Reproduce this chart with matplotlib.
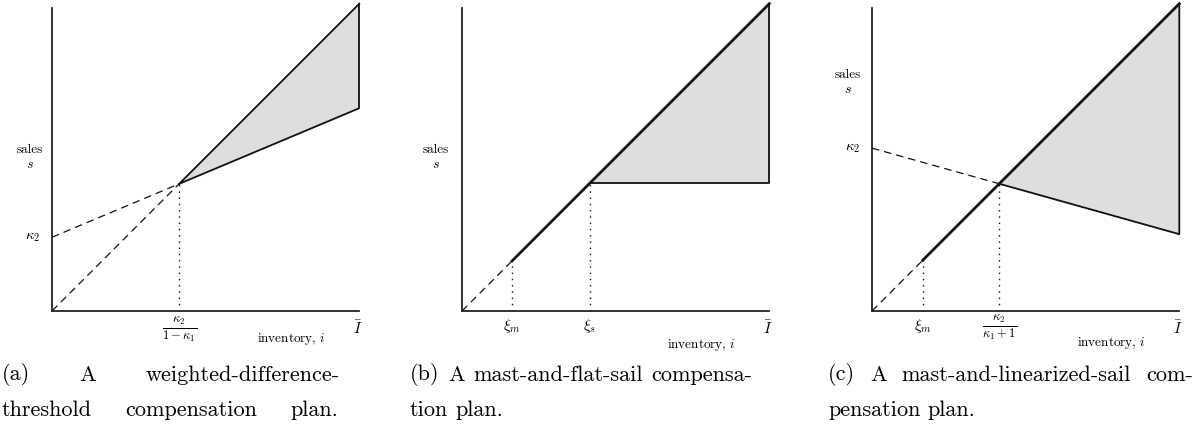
import numpy as np
import matplotlib
matplotlib.use("Agg")
import matplotlib.pyplot as plt

plt.rcParams['font.family'] = 'serif'
plt.rcParams['font.serif'] = ['cmr10']
plt.rcParams['mathtext.fontset'] = 'cm'
plt.rcParams['axes.unicode_minus'] = False

# diagram parameters (inventory runs 0..ibar)
ibar = 10.0
yTop = 9.87

# (a) weighted-difference-threshold
kappa1A = 0.42
kappa2A = 2.4

# (b) mast-and-flat-sail
xiMB = 1.63
xiSB = 4.15

# (c) mast-and-linearized-sail
xiMC = 1.65
kappa1C = 0.28
kappa2C = 5.3

captions = [
  ["(a) A weighted-difference-", "threshold compensation plan."],
  ["(b) A mast-and-flat-sail compensa-", "tion plan."],
  ["(c) A mast-and-linearized-sail com-", "pensation plan."],
]

W, H = 1195, 433
grey = '#dedede'
ink = '#111111'


def makeAxes(fig, x0):
  # x0 = pixel position of the vertical axis
  w = 307.3
  ax = fig.add_axes([x0 / W, (H - 311) / H, w / W, w / H])
  ax.set_xlim(0, ibar)
  ax.set_ylim(0, ibar)
  for side in ['top', 'right']:
    ax.spines[side].set_visible(False)
  for side in ['left', 'bottom']:
    ax.spines[side].set_color('#222222')
    ax.spines[side].set_linewidth(1.3)
  ax.spines['left'].set_bounds(0, yTop)
  ax.set_xticks([])
  ax.set_yticks([])
  ax.patch.set_alpha(0)
  return ax


def axisLabels(ax, salesX, salesY, invY):
  ax.text(salesX, salesY, "sales", ha='center', va='center', fontsize=9.5, clip_on=False)
  ax.text(salesX, salesY - 0.48, "$s$", ha='center', va='center', fontsize=10, clip_on=False)
  ax.text(7.8, invY, "inventory, $i$", ha='center', va='center', fontsize=9.5, clip_on=False)
  ax.text(ibar - 0.05, -0.55, r"$\bar{I}$", ha='center', va='center', fontsize=11, clip_on=False)


def justifyLine(fig, words, x0, x1, y, size, stretch=True):
  r = fig.canvas.get_renderer()
  arts = [fig.text(0, y / H, wd, fontsize=size, va='center', ha='left') for wd in words]
  widths = [a.get_window_extent(renderer=r).width for a in arts]
  if stretch and len(words) > 1:
    gap = (x1 - x0 - sum(widths)) / (len(words) - 1)
  else:
    sp = fig.text(0, 0, "a b", fontsize=size)
    sp2 = fig.text(0, 0, "ab", fontsize=size)
    gap = sp.get_window_extent(renderer=r).width - sp2.get_window_extent(renderer=r).width
    sp.remove()
    sp2.remove()
  x = x0
  for a, wdt in zip(arts, widths):
    a.set_x(x / W)
    x += wdt + gap


fig = plt.figure(figsize=(W / 100, H / 100), dpi=100)
fig.canvas.draw()

# ---- (a)
ax = makeAxes(fig, 52)
kinkA = kappa2A / (1 - kappa1A)
ax.fill([kinkA, ibar, ibar], [kinkA, ibar, kappa2A + kappa1A * ibar], color=grey, lw=0)
ax.plot([kinkA, ibar], [kinkA, ibar], color=ink, lw=1.3, clip_on=False)
ax.plot([kinkA, ibar], [kappa2A + kappa1A * kinkA, kappa2A + kappa1A * ibar], color=ink, lw=1.3)
ax.plot([ibar, ibar], [kappa2A + kappa1A * ibar, ibar], color=ink, lw=1.3, clip_on=False)
ax.plot([0, kinkA], [kappa2A, kinkA], color=ink, lw=0.9, ls=(0, (6, 4)))
ax.plot([0, kinkA], [0, kinkA], color=ink, lw=0.9, ls=(0, (6, 4)))
ax.plot([kinkA, kinkA], [0, kinkA], color=ink, lw=1.0, ls=(0, (1, 3.5)))
ax.text(-0.38, kappa2A, r"$\kappa_2$", ha='right', va='center', fontsize=10.5, clip_on=False)
ax.text(kinkA, -0.6, r"$\frac{\kappa_2}{1-\kappa_1}$", ha='center', va='center', fontsize=13, clip_on=False)
axisLabels(ax, -0.72, 5.24, -0.9)

# ---- (b)
ax = makeAxes(fig, 462)
ax.fill([xiSB, ibar, ibar], [xiSB, ibar, xiSB], color=grey, lw=0)
ax.plot([0, xiMB], [0, xiMB], color=ink, lw=0.9, ls=(0, (6, 4)))
ax.plot([xiMB, ibar], [xiMB, ibar], color=ink, lw=2.0, clip_on=False)
ax.plot([xiSB, ibar, ibar], [xiSB, xiSB, ibar], color=ink, lw=1.3, clip_on=False)
ax.plot([xiMB, xiMB], [0, xiMB], color=ink, lw=1.0, ls=(0, (1, 3.5)))
ax.plot([xiSB, xiSB], [0, xiSB], color=ink, lw=1.0, ls=(0, (1, 3.5)))
ax.text(xiMB, -0.5, r"$\xi_m$", ha='center', va='center', fontsize=11, clip_on=False)
ax.text(xiSB, -0.5, r"$\xi_s$", ha='center', va='center', fontsize=11, clip_on=False)
axisLabels(ax, -0.85, 5.24, -1.1)

# ---- (c)
ax = makeAxes(fig, 872)
kinkC = kappa2C / (kappa1C + 1)
sailEnd = kappa2C - kappa1C * ibar
ax.fill([kinkC, ibar, ibar], [kinkC, ibar, sailEnd], color=grey, lw=0)
ax.plot([0, xiMC], [0, xiMC], color=ink, lw=0.9, ls=(0, (6, 4)))
ax.plot([xiMC, ibar], [xiMC, ibar], color=ink, lw=2.0, clip_on=False)
ax.plot([0, kinkC], [kappa2C, kinkC], color=ink, lw=0.9, ls=(0, (6, 4)))
ax.plot([kinkC, ibar, ibar], [kinkC, sailEnd, ibar], color=ink, lw=1.3, clip_on=False)
ax.plot([xiMC, xiMC], [0, xiMC], color=ink, lw=1.0, ls=(0, (1, 3.5)))
ax.plot([kinkC, kinkC], [0, kinkC], color=ink, lw=1.0, ls=(0, (1, 3.5)))
ax.text(-0.38, kappa2C, r"$\kappa_2$", ha='right', va='center', fontsize=10.5, clip_on=False)
ax.text(xiMC, -0.5, r"$\xi_m$", ha='center', va='center', fontsize=11, clip_on=False)
ax.text(kinkC, -0.55, r"$\frac{\kappa_2}{\kappa_1+1}$", ha='center', va='center', fontsize=13, clip_on=False)
axisLabels(ax, -0.78, 7.68, -1.05)

# ---- captions
capSize = 16
lefts = [2, 410, 828]
rights = [340, 752, 1193]
for cap, x0, x1 in zip(captions, lefts, rights):
  justifyLine(fig, cap[0].split(' '), x0, x1, H - 375, capSize)
  justifyLine(fig, cap[1].split(' '), x0, 338, H - 410, capSize, stretch=(x0 == 2))

fig.savefig("out.png", dpi=100, facecolor='white')
